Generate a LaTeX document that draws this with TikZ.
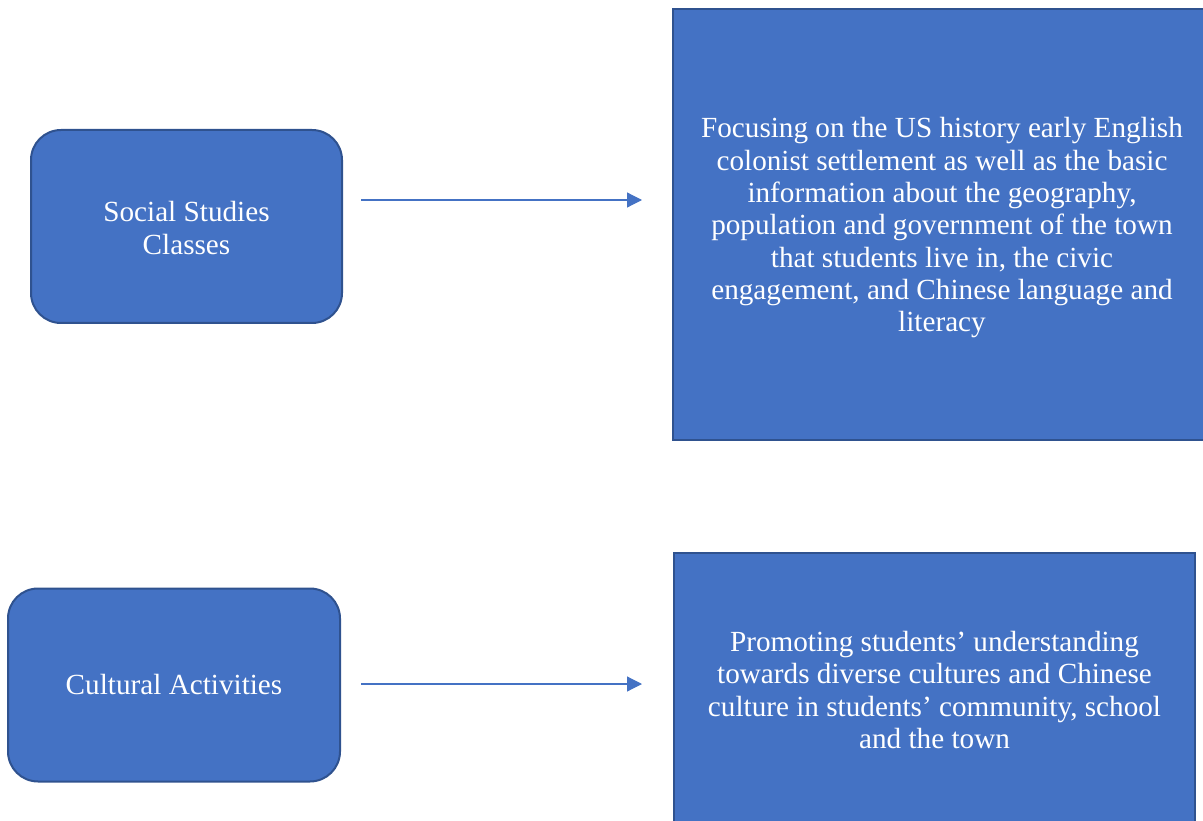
\documentclass[tikz,border=0pt]{standalone}
\usepackage{fontspec}
\setmainfont{Liberation Serif}
\usetikzlibrary{arrows.meta}
\definecolor{boxfill}{HTML}{4472C4}
\definecolor{boxline}{HTML}{2F528F}
\tikzset{
  srcbox/.style={draw=boxline, fill=boxfill, line width=2pt, rounded corners=30pt,
    text=white, align=center, inner sep=0pt,
    font=\fontsize{29.2}{33}\selectfont},
  descbox/.style={draw=boxline, fill=boxfill, line width=2pt,
    text=white, align=center, inner sep=0pt,
    font=\fontsize{29.2}{32.3}\selectfont},
  arr/.style={draw=boxfill, line width=1.2pt, -{Triangle[length=15pt,width=15pt]}}
}
\begin{document}
\begin{tikzpicture}[x=1pt,y=-1pt]
\useasboundingbox (0,0) rectangle (1203,821);
\node[srcbox, minimum width=311pt, minimum height=193pt] (s1) at (186.5,226.5)
  {\rule{0pt}{24pt}Social Studies\\Classes};
\node[srcbox, minimum width=332pt, minimum height=193pt] (s2) at (174,685)
  {Cultural Activities};
\node[descbox, minimum width=538pt, minimum height=431pt] (d1) at (942,224.5)
  {\rule{0pt}{27pt}Focusing on the US history early English\\
   colonist settlement as well as the basic\\
   information about the geography,\\
   population and government of the town\\
   that students live in, the civic\\
   engagement, and Chinese language and\\
   literacy};
\node[descbox, minimum width=521pt, minimum height=274pt] (d2) at (934.5,690)
  {Promoting students’ understanding\\
   towards diverse cultures and Chinese\\
   culture in students’ community, school\\
   and the town};
\draw[arr, shorten >=30pt] ([xshift=18pt,yshift=26.5pt]s1.east) coordinate (a1) -- (a1 -| d1.west);
\draw[arr, shorten >=31pt] ([xshift=20pt,yshift=1pt]s2.east) coordinate (a2) -- (a2 -| d2.west);
\end{tikzpicture}
\end{document}
